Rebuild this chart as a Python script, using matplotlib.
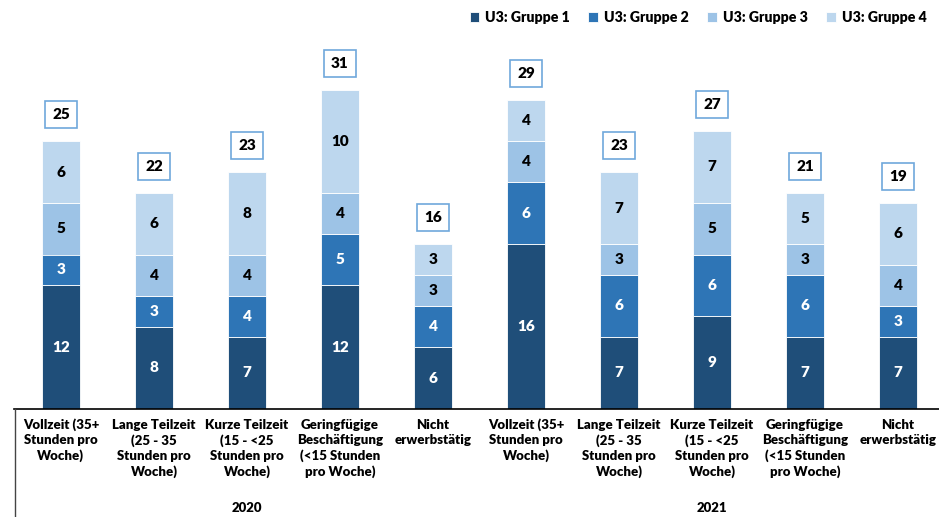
import matplotlib
matplotlib.use("Agg")
import matplotlib.pyplot as plt
from matplotlib.lines import Line2D
import numpy as np

plt.rcParams['font.family'] = ['Lato', 'DejaVu Sans']

categories = ["Vollzeit (35+\nStunden pro\nWoche)",
              "Lange Teilzeit\n(25 - 35\nStunden pro\nWoche)",
              "Kurze Teilzeit\n(15 - <25\nStunden pro\nWoche)",
              "Geringfügige\nBeschäftigung\n(<15 Stunden\npro Woche)",
              "Nicht\nerwerbstätig"]
years = ["2020", "2021"]

gruppe1 = [12, 8, 7, 12, 6, 16, 7, 9, 7, 7]
gruppe2 = [3, 3, 4, 5, 4, 6, 6, 6, 6, 3]
gruppe3 = [5, 4, 4, 4, 3, 4, 3, 5, 3, 4]
gruppe4 = [6, 6, 8, 10, 3, 4, 7, 7, 5, 6]
totals = [25, 22, 23, 31, 16, 29, 23, 27, 21, 19]

series = [gruppe1, gruppe2, gruppe3, gruppe4]
names = ["U3: Gruppe 1", "U3: Gruppe 2", "U3: Gruppe 3", "U3: Gruppe 4"]
colors = ["#1F4E79", "#2E75B6", "#9DC3E6", "#BDD7EE"]
text_colors = ["white", "white", "black", "black"]
wt = "heavy"

W, H = 939, 517
fig = plt.figure(figsize=(W / 100, H / 100), dpi=100)
ax_bottom = 409
ppu = 10.3
ymax = 35
ax = fig.add_axes([14 / W, (H - ax_bottom) / H, (W - 14) / W, ymax * ppu / H])

x = np.arange(len(totals))
bottom = np.zeros(len(totals))
handles = []
for vals, name, col, tc in zip(series, names, colors, text_colors):
    bars = ax.bar(x, vals, width=0.41, bottom=bottom, color=col,
                  edgecolor="white", linewidth=0.6, label=name)
    handles.append(bars)
    for xi, b, v in zip(x, bottom, vals):
        ax.text(xi, b + v / 2, str(v), ha="center", va="center",
                color=tc, fontsize=11, fontweight=wt)
    bottom = bottom + np.array(vals)

for xi, top, t in zip(x, bottom, totals):
    ax.annotate(str(t), (xi, top), xytext=(0, 19), textcoords="offset points",
                ha="center", va="center", fontsize=11, fontweight=wt,
                bbox=dict(boxstyle="square,pad=0.45", fc="white",
                          ec="#6FA8DC", lw=1.2))

ax.set_xlim(-0.505, (W - 61) / 93)
ax.set_ylim(0, ymax)
ax.set_xticks(x)
ax.set_xticklabels(categories * 2, fontsize=9.5, fontweight=wt,
                   linespacing=1.3, va="top")
ax.tick_params(axis="x", length=0, pad=7)
ax.set_yticks([])
for s in ["top", "right", "left"]:
    ax.spines[s].set_visible(False)
ax.spines["bottom"].set_linewidth(1.2)

for i, yr in enumerate(years):
    xc = (61 + 93 * (2 + 5 * i)) / W
    fig.text(xc, 1 - 508 / H, yr, ha="center", va="center",
             fontsize=9.5, fontweight=wt)

fig.add_artist(Line2D([14.5 / W, 14.5 / W], [0, (H - ax_bottom) / H],
                      color="#444444", lw=1))

fig.legend(handles=handles, labels=names, loc="center right",
           bbox_to_anchor=(1.0, 1 - 17 / H), ncol=4, frameon=False,
           handlelength=0.7, handleheight=0.7, handletextpad=0.4,
           columnspacing=1.3, prop={"weight": wt, "size": 10.2})

fig.savefig("out.png", dpi=100)
